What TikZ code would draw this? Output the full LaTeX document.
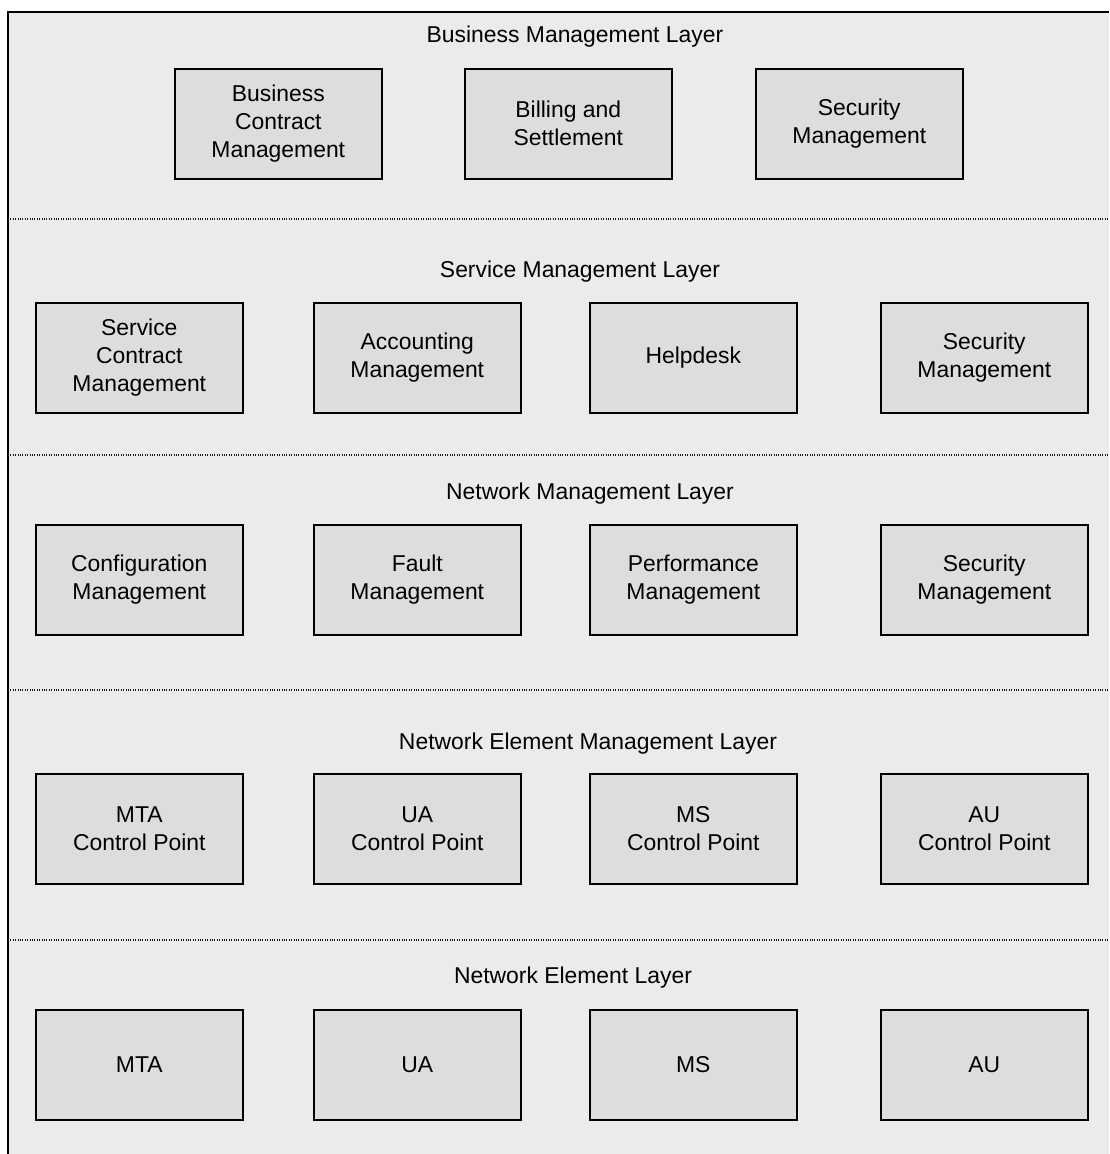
\documentclass[tikz,border=0pt]{standalone}
\usepackage{fontspec}
\setmainfont{Liberation Sans}
\begin{document}
\begin{tikzpicture}[x=1pt,y=-1pt,
  txt/.style={font=\fontsize{22.9}{28}\selectfont, align=center, text=black},
  unit/.style={txt, draw=black, line width=1.6pt, fill=black!13.5,
    minimum width=207pt, minimum height=110pt, inner sep=0pt, anchor=north west},
  layertitle/.style={txt, inner sep=0pt},
  sep/.style={draw=black!90, line width=1.1pt, dash pattern=on 1pt off 1.4pt}]
\useasboundingbox (0,0) rectangle (1109,1154);
% frame of the whole stack
\fill[black!8] (8,12) rectangle (1109,1154);
\draw[line width=1.6pt, black] (8,1154) -- (8,12) -- (1109,12);
% separators between layers
\draw[sep] (8,219) -- (1109,219);
\draw[sep] (8,455) -- (1109,455);
\draw[sep] (8,690) -- (1109,690);
\draw[sep] (8,940) -- (1109,940);

% Business Management Layer
\node[layertitle] (tb) at (575,37) {Business Management Layer};
\node[unit] (b1) at (174,68) {Business\\Contract\\Management};
\node[unit] (b2) at (464,68) {Billing and\\Settlement};
\node[unit] (b3) at (755,68) {Security\\Management};

% Service Management Layer
\node[layertitle] (ts) at (580,272) {Service Management Layer};
\node[unit] (s1) at (35,302) {Service\\Contract\\Management};
\node[unit] (s2) at (313,302) {Accounting\\Management};
\node[unit] (s3) at (589,302) {Helpdesk};
\node[unit] (s4) at (880,302) {Security\\Management};

% Network Management Layer
\node[layertitle] (tn) at (590,494) {Network Management Layer};
\node[unit] (n1) at (35,524) {Configuration\\Management};
\node[unit] (n2) at (313,524) {Fault\\Management};
\node[unit] (n3) at (589,524) {Performance\\Management};
\node[unit] (n4) at (880,524) {Security\\Management};

% Network Element Management Layer
\node[layertitle] (te) at (588,744) {Network Element Management Layer};
\node[unit] (e1) at (35,773) {MTA\\Control Point};
\node[unit] (e2) at (313,773) {UA\\Control Point};
\node[unit] (e3) at (589,773) {MS\\Control Point};
\node[unit] (e4) at (880,773) {AU\\Control Point};

% Network Element Layer
\node[layertitle] (tl) at (573,978) {Network Element Layer};
\node[unit] (l1) at (35,1009) {MTA};
\node[unit] (l2) at (313,1009) {UA};
\node[unit] (l3) at (589,1009) {MS};
\node[unit] (l4) at (880,1009) {AU};
\end{tikzpicture}
\end{document}
